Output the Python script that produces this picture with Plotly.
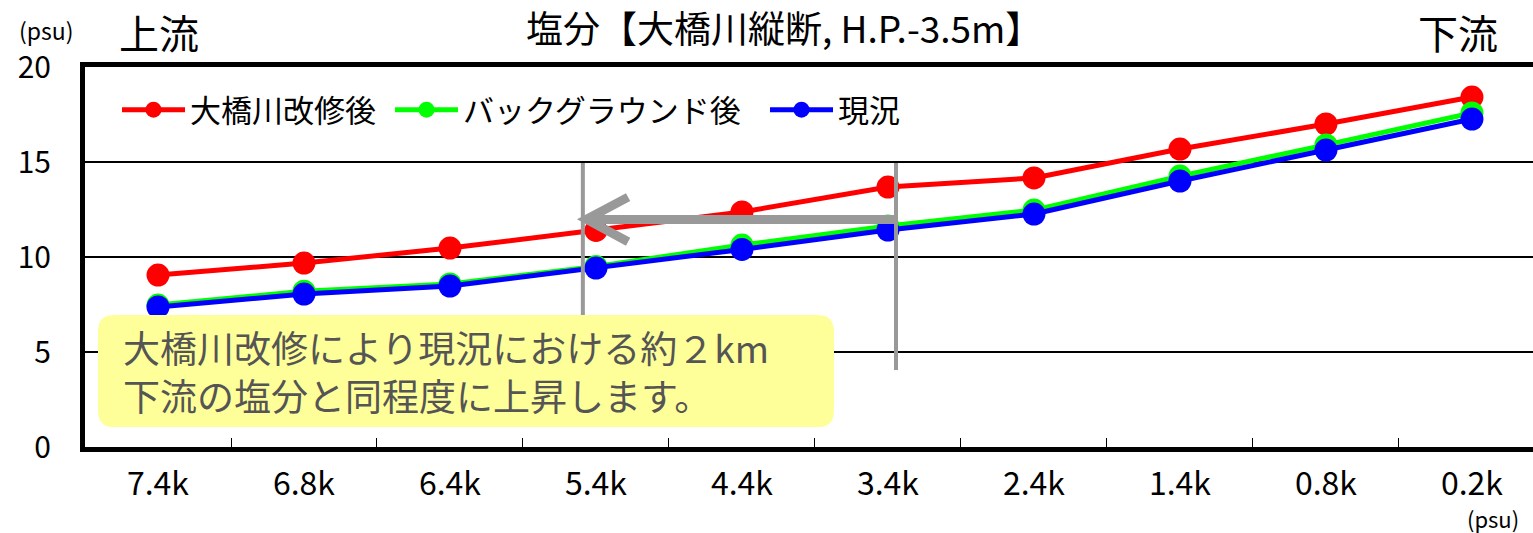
import plotly.graph_objects as go

categories = ["7.4k", "6.8k", "6.4k", "5.4k", "4.4k", "3.4k", "2.4k", "1.4k", "0.8k", "0.2k"]
after_kaishu = [9.05, 9.68, 10.47, 11.4, 12.37, 13.68, 14.16, 15.68, 17.0, 18.42]
after_background = [7.47, 8.2, 8.58, 9.5, 10.63, 11.63, 12.47, 14.26, 15.9, 17.58]
genkyo = [7.37, 8.05, 8.47, 9.42, 10.4, 11.42, 12.26, 14.0, 15.63, 17.26]

series_names = ["大橋川改修後", "バックグラウンド後", "現況"]
series_colors = ["#FF0000", "#00FF00", "#0000FF"]
legend_ids = ["legend", "legend2", "legend3"]
legend_px = [117, 390, 765]

FONT = "Noto Sans CJK JP"
L, T, B = 85, 67, 86
PW, PH = 1533 - L, 533 - T - B


def px(xp):
    return (xp - L) / PW


def py(yp):
    return (533 - B - yp) / PH


fig = go.Figure()
for name, vals, col, lid in zip(series_names, [after_kaishu, after_background, genkyo],
                                series_colors, legend_ids):
    fig.add_trace(go.Scatter(
        x=categories, y=vals, name=name, mode="lines+markers",
        line=dict(color=col, width=5),
        marker=dict(color=col, size=23),
        legend=lid,
    ))

gray = "#999999"
# vertical guide lines
fig.add_shape(type="line", xref="x", yref="y", x0=2.91, x1=2.91, y0=14.95, y1=6.9,
              line=dict(color=gray, width=4))
fig.add_shape(type="line", xref="x", yref="y", x0=5.055, x1=5.055, y0=14.95, y1=4.05,
              line=dict(color=gray, width=4))
# arrow
fig.add_shape(type="line", xref="x", yref="y", x0=2.935, x1=5.055, y0=11.98, y1=11.98,
              line=dict(color=gray, width=9))
fig.add_shape(type="path", xref="x", yref="y",
              path="M 3.22 13.15 L 2.935 11.98 L 3.22 10.8",
              line=dict(color=gray, width=9))

# callout box (rounded)
x0, x1, y0, y1 = -0.411, 4.63, 1.05, 6.95
rx, ry = 0.11, 0.85
path = (f"M {x0+rx} {y1} L {x1-rx} {y1} Q {x1} {y1} {x1} {y1-ry} "
        f"L {x1} {y0+ry} Q {x1} {y0} {x1-rx} {y0} L {x0+rx} {y0} "
        f"Q {x0} {y0} {x0} {y0+ry} L {x0} {y1-ry} Q {x0} {y1} {x0+rx} {y1} Z")
fig.add_shape(type="path", xref="x", yref="y", path=path,
              fillcolor="#FFFF99", line=dict(width=0), layer="above")
fig.add_annotation(xref="x", yref="y", x=-0.255, y=4.0, xanchor="left", yanchor="middle",
                   text="大橋川改修により現況における約２km<br>下流の塩分と同程度に上昇します。",
                   align="left", showarrow=False,
                   font=dict(family=FONT, size=37, color="#555555"))

# header texts
fig.add_annotation(xref="paper", yref="paper", x=px(784), y=py(27),
                   xanchor="center", yanchor="middle",
                   text="塩分【大橋川縦断, H.P.-3.5m】", showarrow=False,
                   font=dict(family=FONT, size=37, color="black"))
fig.add_annotation(xref="paper", yref="paper", x=px(159), y=py(32),
                   xanchor="center", yanchor="middle",
                   text="上流", showarrow=False, font=dict(family=FONT, size=40, color="black"))
fig.add_annotation(xref="paper", yref="paper", x=px(1458), y=py(32),
                   xanchor="center", yanchor="middle",
                   text="下流", showarrow=False, font=dict(family=FONT, size=40, color="black"))
fig.add_annotation(xref="paper", yref="paper", x=px(46), y=py(30),
                   xanchor="center", yanchor="middle",
                   text="(psu)", showarrow=False, font=dict(family=FONT, size=23, color="black"))
fig.add_annotation(xref="paper", yref="paper", x=px(1493), y=py(518),
                   xanchor="center", yanchor="middle",
                   text="(psu)", showarrow=False, font=dict(family=FONT, size=22, color="black"))

legend_common = dict(orientation="h", y=py(110), xanchor="left", yanchor="middle",
                     bgcolor="rgba(0,0,0,0)", font=dict(family=FONT, size=31, color="black"),
                     itemwidth=63)

fig.update_layout(
    width=1533, height=533,
    margin=dict(l=L, r=0, t=T, b=B),
    paper_bgcolor="white", plot_bgcolor="white",
    font=dict(family=FONT, color="black"),
    showlegend=True,
    legend=dict(x=px(legend_px[0]), **legend_common),
    legend2=dict(x=px(legend_px[1]), **legend_common),
    legend3=dict(x=px(legend_px[2]), **legend_common),
)
fig.update_xaxes(
    type="category", range=[-0.5, 9.418], tickson="boundaries",
    ticks="inside", ticklen=9, tickwidth=1, tickcolor="black",
    showline=True, linewidth=5, linecolor="black", mirror=True,
    showgrid=False, zeroline=False,
    tickfont=dict(family=FONT, size=32, color="black"),
    ticklabelstandoff=5,
)
fig.update_yaxes(
    range=[0, 20], dtick=5, showgrid=True, gridcolor="black", gridwidth=2,
    showline=True, linewidth=5, linecolor="black", zeroline=False,
    ticks="", tickfont=dict(family=FONT, size=30, color="black"),
    ticklabelstandoff=23,
)

fig.write_html("out.html", config={"displayModeBar": False},
               post_script="document.body.style.margin='0px';")
